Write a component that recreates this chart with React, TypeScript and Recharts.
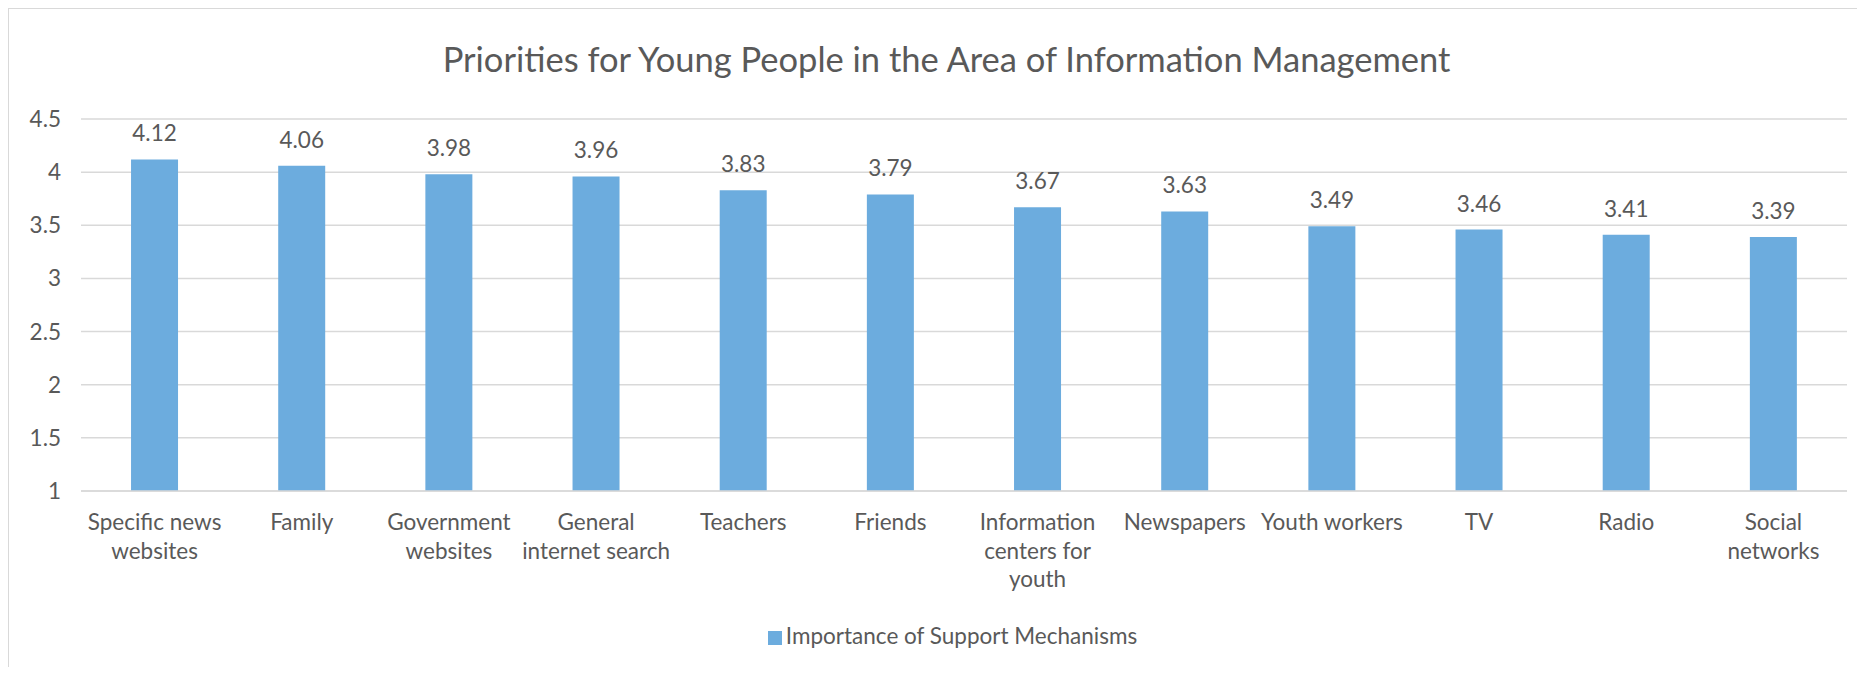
import React from "react";
import { BarChart, Bar, XAxis, YAxis, CartesianGrid, Legend, LabelList } from "recharts";

const categories = [
  "Specific news websites",
  "Family",
  "Government websites",
  "General internet search",
  "Teachers",
  "Friends",
  "Information centers for youth",
  "Newspapers",
  "Youth workers",
  "TV",
  "Radio",
  "Social networks",
];
const tickLines: string[][] = [
  ["Specific news", "websites"],
  ["Family"],
  ["Government", "websites"],
  ["General", "internet search"],
  ["Teachers"],
  ["Friends"],
  ["Information", "centers for", "youth"],
  ["Newspapers"],
  ["Youth workers"],
  ["TV"],
  ["Radio"],
  ["Social", "networks"],
];
const values = [4.12, 4.06, 3.98, 3.96, 3.83, 3.79, 3.67, 3.63, 3.49, 3.46, 3.41, 3.39];
const yTicks = [1, 1.5, 2, 2.5, 3, 3.5, 4, 4.5];
const seriesName = "Importance of Support Mechanisms";
const title = "Priorities for Young People in the Area of Information Management";

const data = categories.map((c, i) => ({ name: c, value: values[i], idx: i }));

const FONT = "Lato, 'Open Sans', sans-serif";
const TEXT = "#595959";
const FS = 22.5;
const W = 1849;
const H = 659;

const XTick = (props: any) => {
  const { x, y, payload } = props;
  const lines = tickLines[payload.index] || [String(payload.value)];
  return (
    <g>
      {lines.map((l, i) => (
        <text
          key={i}
          x={x}
          y={y + 31 + i * 28.5}
          textAnchor="middle"
          fill={TEXT}
          fontSize={FS}
          fontFamily={FONT}
        >
          {l}
        </text>
      ))}
    </g>
  );
};

export default function App() {
  return (
    <div
      style={{
        position: "relative",
        width: W - 1,
        height: H - 1,
        borderLeft: "1.5px solid #D9D9D9",
        borderTop: "1.5px solid #D9D9D9",
        background: "#fff",
        fontFamily: FONT,
      }}
    >
      <div
        style={{
          position: "absolute",
          top: 30,
          left: 13,
          width: W,
          textAlign: "center",
          fontSize: 34.5,
          color: TEXT,
          fontFamily: FONT,
          lineHeight: "40px",
        }}
      >
        {title}
      </div>
      <BarChart
        width={W - 1}
        height={H - 1}
        data={data}
        margin={{ top: 110, right: 10, left: 0, bottom: 73 }}
        barCategoryGap="34%"
      >
        <CartesianGrid vertical={false} stroke="#D9D9D9" strokeWidth={1.5} />
        <XAxis
          dataKey="name"
          interval={0}
          tick={<XTick />}
          tickLine={false}
          axisLine={{ stroke: "#D9D9D9", strokeWidth: 1.5 }}
          height={76}
        />
        <YAxis
          type="number"
          domain={[1, 4.5]}
          ticks={yTicks}
          width={72}
          axisLine={false}
          tickLine={false}
          tick={{ fill: TEXT, fontSize: FS, fontFamily: FONT }}
          tickMargin={14}
        />
        <Legend
          verticalAlign="bottom"
          iconType="square"
          iconSize={14}
          wrapperStyle={{ position: "absolute", top: 613, left: 24, width: W, fontFamily: FONT, fontSize: FS }}
          formatter={(v: any) => <span style={{ color: TEXT }}>{v}</span>}
        />
        <Bar dataKey="value" name={seriesName} fill="#6CACDE" isAnimationActive={false}>
          <LabelList
            dataKey="value"
            position="top"
            offset={18}
            fill={TEXT}
            fontSize={FS}
            fontFamily={FONT}
            formatter={(v: any) => Number(v).toFixed(2)}
          />
        </Bar>
      </BarChart>
    </div>
  );
}
